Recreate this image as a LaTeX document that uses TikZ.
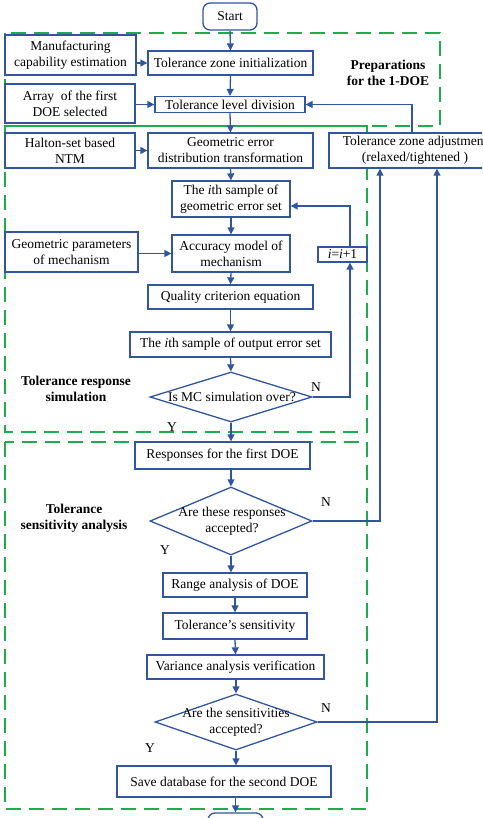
\documentclass[tikz,border=0pt]{standalone}
\usepackage{fontspec}
\setmainfont{Liberation Serif}
\usetikzlibrary{shapes.geometric,arrows.meta}
\definecolor{fblue}{RGB}{50,86,158}
\definecolor{fgreen}{RGB}{30,172,78}
\begin{document}
\begin{tikzpicture}[x=1pt,y=-1pt,
  every node/.style={font=\fontsize{13.5}{16}\selectfont},
  blk/.style={draw=fblue,line width=1.3pt,fill=white,align=center,inner sep=0pt},
  dia/.style={draw=fblue,line width=1.3pt,fill=white,diamond,inner sep=0pt},
  arr/.style={draw=fblue,line width=1.3pt,-{Triangle[length=7pt,width=7pt]}},
  grp/.style={draw=fgreen,line width=2.2pt,dash pattern=on 15pt off 8pt},
  lbl/.style={font=\fontsize{13.5}{16}\selectfont\bfseries,align=center},
  yn/.style={font=\fontsize{13.5}{16}\selectfont}]
\useasboundingbox (0,0) rectangle (482,818);
\clip (0,0) rectangle (482,818);
% group frames
\draw[grp] (5,33) rectangle (440,126);
\draw[grp] (5,126) rectangle (367,432);
\draw[grp] (5,442) rectangle (367,809);
% nodes
\node[blk,rounded corners=7pt,minimum width=54,minimum height=27] (start) at (230,16.5) {Start};
\node[blk,minimum width=131,minimum height=40] (manu) at (70.5,55) {Manufacturing\\capability estimation};
\node[blk,minimum width=165,minimum height=24] (tzi) at (230.5,63) {Tolerance zone initialization};
\node[lbl] (prep) at (388,73) {Preparations\\for the 1-DOE};
\node[blk,minimum width=130,minimum height=39] (array) at (70,103.5) {Array\ \ of the first\\DOE selected};
\node[blk,minimum width=150,minimum height=16] (tld) at (230,104.5) {Tolerance level division};
\node[blk,minimum width=130,minimum height=35] (halton) at (70,150.5) {Halton-set based\\NTM};
\node[blk,minimum width=165,minimum height=35] (gedt) at (230.5,150.5) {Geometric error\\distribution transformation};
\node[blk,minimum width=172,minimum height=35] (tza) at (415,150.5) {Tolerance zone adjustment\\(relaxed/tightened )};
\node[blk,minimum width=118,minimum height=36] (ith) at (231,199) {The \textit{i}th sample of\\geometric error set};
\node[blk,minimum width=118,minimum height=37] (acc) at (231,253.5) {Accuracy model of\\mechanism};
\node[blk,minimum width=133,minimum height=40] (gp) at (71.5,252) {Geometric parameters\\of mechanism};
\node[blk,minimum width=49,minimum height=15] (inc) at (342.5,254.5) {\textit{i}=\textit{i}+1};
\node[blk,minimum width=165,minimum height=24] (qce) at (230.5,297) {Quality criterion equation};
\node[blk,minimum width=201,minimum height=25] (ose) at (230.5,344.5) {The \textit{i}th sample of output error set};
\node[dia,minimum width=162,minimum height=50] (mc) at (231,397) {};
\node (mct) at (232,397) {Is MC simulation over?};
\node[yn] (n1) at (316,387) {N};
\node[lbl] (trs) at (76,388.5) {Tolerance response\\simulation};
\node[yn] (y1) at (172,427) {Y};
\node[blk,minimum width=175,minimum height=27] (resp) at (222.5,455.5) {Responses for the first DOE};
\node[dia,minimum width=162,minimum height=68] (acc1) at (231,521) {};
\node[align=center] (acc1t) at (232,521.5) {Are these responses\\accepted?};
\node[yn] (n2) at (326,502) {N};
\node[yn] (y2) at (165,550) {Y};
\node[lbl] (tsa) at (74,518.5) {Tolerance\\sensitivity analysis};
\node[blk,minimum width=144,minimum height=24] (range) at (235,585) {Range analysis of DOE};
\node[blk,minimum width=144,minimum height=26] (sens) at (235,626) {Tolerance’s sensitivity};
\node[blk,minimum width=177,minimum height=24] (var) at (235.5,667) {Variance analysis verification};
\node[dia,minimum width=162,minimum height=56] (acc2) at (236,722) {};
\node[align=center] (acc2t) at (236,722.5) {Are the sensitivities\\accepted?};
\node[yn] (n3) at (326,708) {N};
\node[yn] (y3) at (150,748) {Y};
\node[blk,minimum width=214,minimum height=31] (save) at (224,781.5) {Save database for the second DOE};
\node[blk,rounded corners=7pt,minimum width=55,minimum height=28] (endn) at (235.5,827) {};
% connectors
\draw[arr] (start.south) -- (tzi.north);
\draw[arr] (manu.east |- tzi.west) -- (tzi.west);
\draw[arr] (tzi.south) -- (tld.north);
\draw[arr] (array.east |- tld.west) -- (tld.west);
\draw[arr] (tld.south) -- (gedt.north);
\draw[arr] (halton.east |- gedt.west) -- (gedt.west);
\draw[arr] (gedt.south) -- (ith.north);
\draw[arr] (ith.south) -- (acc.north);
\draw[arr] (gp.east |- acc.west) -- (acc.west);
\draw[arr] (acc.south) -- (qce.north);
\draw[arr] (qce.south) -- (ose.north);
\draw[arr] (ose.south) -- (mc.north);
\draw[arr] (mc.east) -| ([xshift=7.5pt]inc.south);
\draw[arr] ([xshift=7.5pt]inc.north) |- ([yshift=-7pt]ith.east);
\draw[arr] (mc.south) -- (mc.south |- resp.north);
\draw[arr] (acc1.north |- resp.south) -- (acc1.north);
\draw[arr] (acc1.east) -| ([xshift=-35pt]tza.south);
\draw[arr] (acc2.east) -| ([xshift=22pt]tza.south);
\draw[arr] ([xshift=-3pt]tza.north) |- (tld.east);
\draw[arr] (acc1.south) -- (acc1.south |- range.north);
\draw[arr] (range.south) -- (sens.north);
\draw[arr] (sens.south) -- (var.north);
\draw[arr] (acc2.north |- var.south) -- (acc2.north);
\draw[arr] (acc2.south) -- (acc2.south |- save.north);
\draw[arr] (endn.north |- save.south) -- (endn.north);
\end{tikzpicture}
\end{document}
